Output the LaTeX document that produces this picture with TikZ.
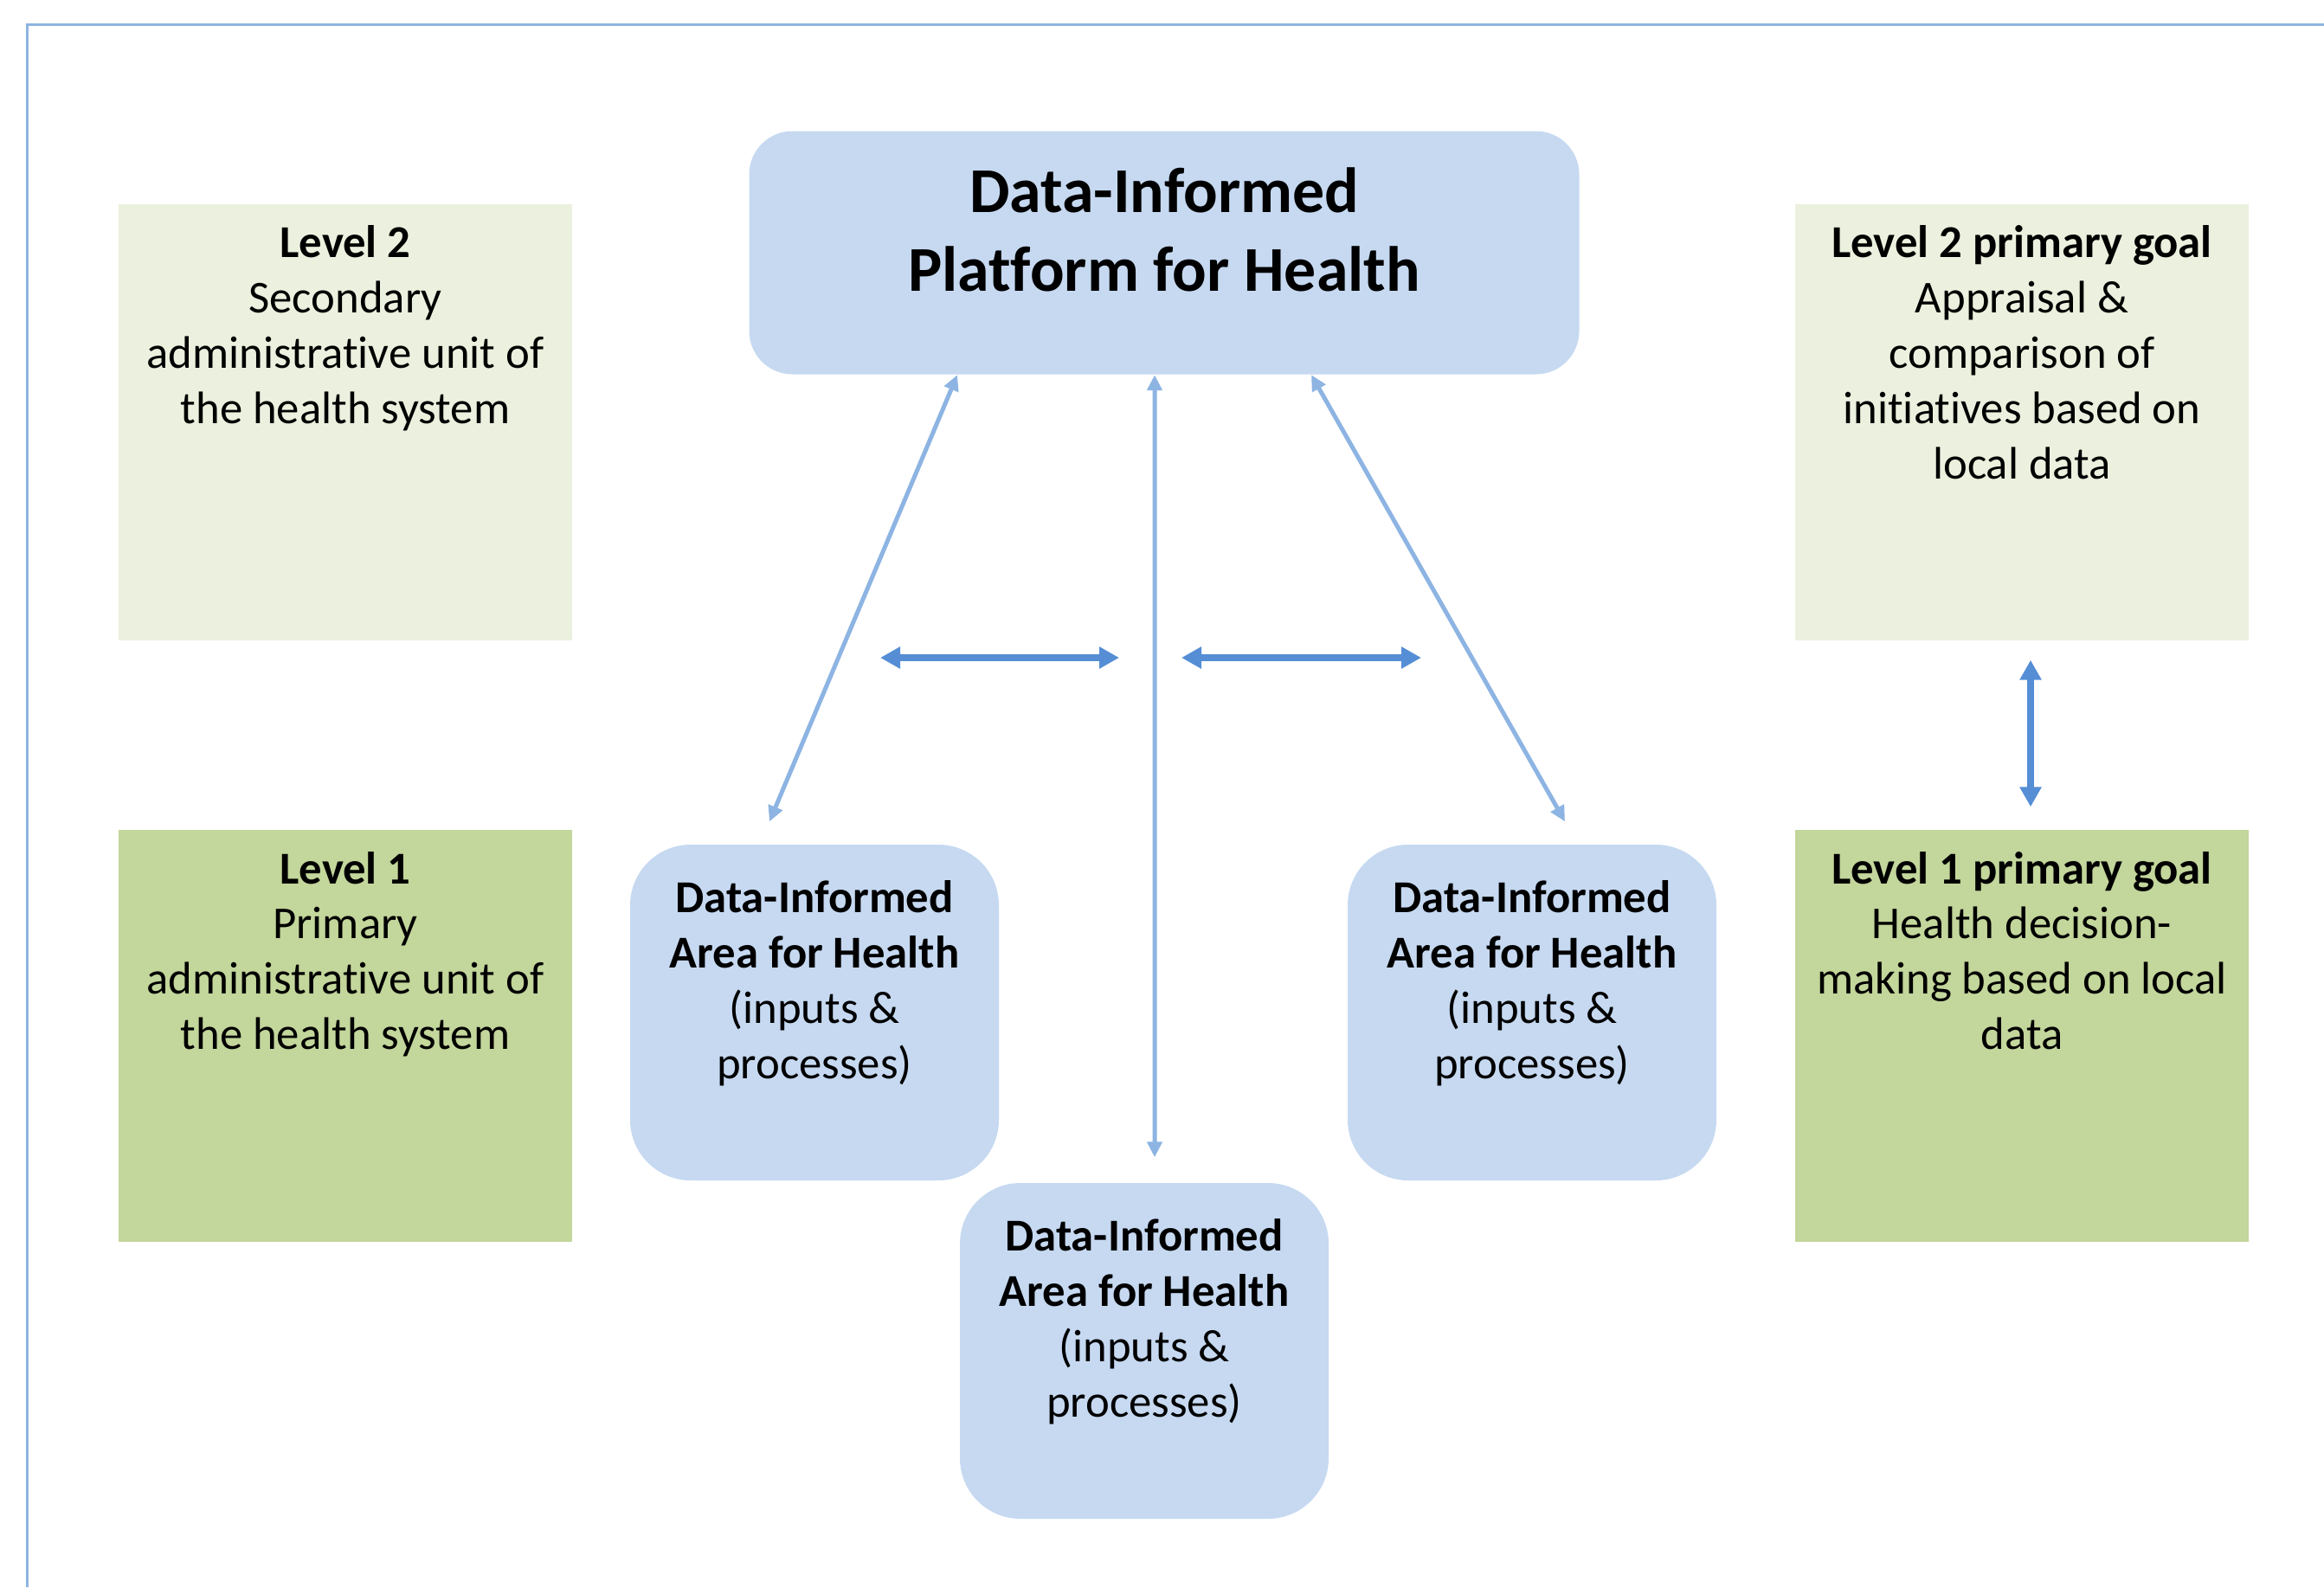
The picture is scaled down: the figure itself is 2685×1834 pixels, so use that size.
\documentclass[tikz,border=0pt]{standalone}
\usepackage{fontspec}
\setmainfont{Carlito}[Ligatures={NoCommon,NoContextual}]
\usepackage{tikz}
\usetikzlibrary{positioning}
\usetikzlibrary{arrows.meta}
\definecolor{boxblue}{HTML}{C6D9F1}
\definecolor{palegreen}{HTML}{EBF1DE}
\definecolor{olivegreen}{HTML}{C3D69B}
\definecolor{thinblue}{HTML}{8DB4E2}
\definecolor{thickblue}{HTML}{558ED5}

\begin{document}
\begin{tikzpicture}[x=0.1mm,y=-0.1mm,
  levelbox/.style={inner sep=0pt,minimum width=52.4mm},
  areabox/.style={fill=boxblue,rounded corners=7mm,inner sep=0pt,minimum width=42.6mm,minimum height=38.8mm},
  boxtext/.style={align=center,inner sep=0pt,font=\fontsize{15}{18.2}\selectfont},
  thinlink/.style={draw=thinblue,line width=0.5mm,{Triangle[width=1.7mm,length=1.8mm]}-{Triangle[width=1.7mm,length=1.8mm]}},
  thicklink/.style={draw=thickblue,line width=0.8mm,{Triangle[width=2.4mm,length=2.3mm]}-{Triangle[width=2.4mm,length=2.3mm]}}]
\useasboundingbox (0,0) rectangle (2685,1834);
\draw[thinblue,line width=0.3mm] (31,1834) -- (31,28) -- (2685,28);
\node at (1345,292) [fill=boxblue,rounded corners=5mm,minimum width=95.9mm,minimum height=28.1mm] (P) {};
\node at (399,488) [levelbox,fill=palegreen,minimum height=50.4mm] (L2) {};
\node at (399,1197) [levelbox,fill=olivegreen,minimum height=47.6mm] (L1) {};
\node at (2336,488) [levelbox,fill=palegreen,minimum height=50.4mm] (G2) {};
\node at (2336,1197) [levelbox,fill=olivegreen,minimum height=47.6mm] (G1) {};
\node at (941,1170) [areabox] (A1) {};
\node at (1770,1170) [areabox] (A2) {};
\node at (1322,1561) [areabox] (A3) {};
\node[boxtext,font=\fontsize{21}{25.9}\selectfont\bfseries,below=4.25mm of P.north] (Pt) {Data-Informed\\Platform for Health};
\node[boxtext,below=2.5mm of L2.north] (L2t) {\textbf{Level 2}\\Secondary\\administrative unit of\\the health system};
\node[boxtext,below=2.5mm of L1.north] (L1t) {\textbf{Level 1}\\Primary\\administrative unit of\\the health system};
\node[boxtext,below=2.5mm of G2.north] (G2t) {\textbf{Level 2 primary goal}\\Appraisal \&\\comparison of\\initiatives based on\\local data};
\node[boxtext,below=2.5mm of G1.north] (G1t) {\textbf{Level 1 primary goal}\\Health decision-\\making based on local\\data};
\node[boxtext,below=4.15mm of A1.north] (A1t) {\textbf{Data-Informed}\\\textbf{Area for Health}\\(inputs \&\\processes)};
\node[boxtext,below=4.15mm of A2.north] (A2t) {\textbf{Data-Informed}\\\textbf{Area for Health}\\(inputs \&\\processes)};
\node[boxtext,below=4.15mm of A3.north] (A3t) {\textbf{Data-Informed}\\\textbf{Area for Health}\\(inputs \&\\processes)};
\coordinate (h1) at (1017,760);
\coordinate (h2) at (1293,760);
\coordinate (h3) at (1365,760);
\coordinate (h4) at (1642,760);
\draw[thinlink] ([xshift=-23.9mm]P.south) -- ([xshift=-5.2mm,yshift=2.6mm]A1.north);
\draw[thinlink] ([xshift=-1.1mm]P.south) -- ([xshift=1.2mm,yshift=2.9mm]A3.north);
\draw[thinlink] ([xshift=17mm]P.south) -- ([xshift=3.8mm,yshift=2.6mm]A2.north);
\draw[thicklink] (h1) -- (h2);
\draw[thicklink] (h3) -- (h4);
\draw[thicklink] ([xshift=1mm,yshift=-2.2mm]G2.south) -- ([xshift=1mm,yshift=2.6mm]G1.north);
\end{tikzpicture}
\end{document}
